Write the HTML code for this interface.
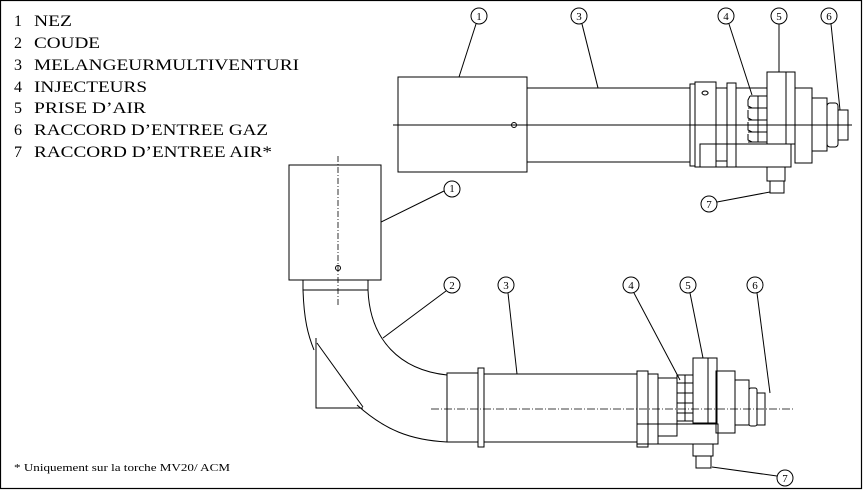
<!DOCTYPE html>
<html><head><meta charset="utf-8"><style>
html,body{margin:0;padding:0;background:#fff;}
svg{display:block;}
text{font-family:"Liberation Serif",serif;fill:#000;}
.l{font-size:16px;}
</style></head><body>
<svg width="863" height="491" viewBox="0 0 863 491" xmlns="http://www.w3.org/2000/svg" fill="none" stroke="#000" stroke-width="1">
<rect x="0.5" y="0.5" width="861" height="488" stroke-width="1.2"/>
<g stroke="none">
<text class="l" x="14" y="26">1</text><text class="l" x="34" y="26" textLength="38" lengthAdjust="spacingAndGlyphs">NEZ</text>
<text class="l" x="14" y="48">2</text><text class="l" x="34" y="48" textLength="66" lengthAdjust="spacingAndGlyphs">COUDE</text>
<text class="l" x="14" y="70">3</text><text class="l" x="34" y="70" textLength="265" lengthAdjust="spacingAndGlyphs">MELANGEURMULTIVENTURI</text>
<text class="l" x="14" y="92">4</text><text class="l" x="34" y="92" textLength="113" lengthAdjust="spacingAndGlyphs">INJECTEURS</text>
<text class="l" x="14" y="113">5</text><text class="l" x="34" y="113" textLength="112" lengthAdjust="spacingAndGlyphs">PRISE D’AIR</text>
<text class="l" x="14" y="135">6</text><text class="l" x="34" y="135" textLength="234" lengthAdjust="spacingAndGlyphs">RACCORD D’ENTREE GAZ</text>
<text class="l" x="14" y="157">7</text><text class="l" x="34" y="157" textLength="238" lengthAdjust="spacingAndGlyphs">RACCORD D’ENTREE AIR*</text>
<text x="14" y="471" font-size="11" textLength="216" lengthAdjust="spacingAndGlyphs">* Uniquement sur la torche MV20/ ACM</text>
</g>
<!-- TOP ASSEMBLY -->
<line x1="393" y1="125" x2="852" y2="125"/>
<rect x="398" y="77" width="129" height="95"/>
<circle cx="514" cy="125" r="2.5"/>
<rect x="527" y="88" width="163" height="74"/>
<rect x="690" y="84" width="5" height="82"/>
<rect x="695" y="82" width="21" height="85"/>
<rect x="716" y="88" width="11" height="73"/>
<rect x="727" y="83" width="9" height="84"/>
<rect x="736" y="88" width="31" height="56"/>
<path d="M750 96 h17 M748 108 h19 M748 120 h19 M748 132 h19 M748 142 h19"/>
<path d="M750 96 l-2 4 v6 l4 2 M748 110 v8 l4 2 M748 122 v8 l4 2 M748 134 v6 l4 2"/>
<line x1="758" y1="96" x2="758" y2="142"/>
<rect x="767" y="72" width="28" height="72"/>
<line x1="786" y1="72" x2="786" y2="144"/>
<rect x="700" y="144" width="91" height="23"/>
<rect x="795" y="88" width="17" height="75"/>
<rect x="812" y="98" width="15" height="53"/>
<rect x="827" y="103" width="11" height="44" rx="3"/>
<rect x="838" y="110" width="10" height="30"/>
<rect x="767" y="167" width="18" height="14"/>
<rect x="770" y="181" width="14" height="12"/>
<path d="M705 95 a3 2 0 1 1 0.1 0"/>
<g>
<circle cx="479" cy="16" r="8"/><line x1="476" y1="24" x2="459" y2="77"/>
<circle cx="579" cy="16" r="8"/><line x1="582" y1="24" x2="598" y2="88"/>
<circle cx="726" cy="16" r="8"/><line x1="729" y1="24" x2="752" y2="95"/>
<circle cx="779" cy="16" r="8"/><line x1="779" y1="24" x2="779" y2="72"/>
<circle cx="829" cy="16" r="8"/><line x1="831" y1="24" x2="840" y2="110"/>
<circle cx="709" cy="204" r="8"/><line x1="717" y1="202" x2="770" y2="192"/>
</g>
<g stroke="none" font-size="11" text-anchor="middle">
<text x="479" y="20">1</text><text x="579" y="20">3</text><text x="726" y="20">4</text>
<text x="779" y="20">5</text><text x="829" y="20">6</text><text x="709" y="208">7</text>
<text x="452" y="192">1</text><text x="452" y="289">2</text><text x="506" y="289">3</text>
<text x="631" y="289">4</text><text x="688" y="289">5</text><text x="755" y="289">6</text><text x="785" y="482">7</text>
</g>
<!-- BOTTOM ASSEMBLY -->
<rect x="289" y="165" width="92" height="115"/>
<line x1="338" y1="156" x2="338" y2="305" stroke-dasharray="6,2,1,2" stroke-width="0.8"/>
<circle cx="338" cy="268" r="2.5"/>
<circle cx="452" cy="189" r="8"/><line x1="444" y1="191" x2="381" y2="222"/>
<rect x="303" y="280" width="65" height="10"/>
<path d="M368 290 C370 340 400 370 447 375"/>
<path d="M303 290 C304 320 308 335 314 350"/>
<path d="M316 338 V408 H363"/>
<path d="M317 343 L363 407"/>
<path d="M357 405 C385 430 410 440 447 442"/>
<rect x="447" y="373" width="31" height="69"/>
<rect x="478" y="368" width="6" height="79"/>
<rect x="484" y="374" width="153" height="68"/>
<line x1="431" y1="409" x2="795" y2="409" stroke-dasharray="8,2,1,2" stroke-width="0.8"/>
<rect x="637" y="371" width="11" height="76"/>
<rect x="648" y="374" width="10" height="70"/>
<rect x="658" y="378" width="19" height="58"/>
<rect x="677" y="375" width="16" height="46"/>
<path d="M677 383 h16 M677 393 h16 M677 403 h16 M677 413 h16 M685 375 v46"/>
<rect x="693" y="358" width="24" height="65"/>
<line x1="708" y1="358" x2="708" y2="423"/>
<rect x="637" y="424" width="81" height="20"/>
<rect x="716" y="371" width="19" height="62"/>
<rect x="735" y="380" width="14" height="45"/>
<rect x="749" y="388" width="8" height="38" rx="2"/>
<rect x="757" y="393" width="8" height="32"/>
<rect x="693" y="444" width="20" height="12"/>
<rect x="696" y="456" width="15" height="12"/>
<g>
<circle cx="452" cy="285" r="8"/><line x1="446" y1="291" x2="383" y2="338"/>
<circle cx="506" cy="285" r="8"/><line x1="508" y1="293" x2="517" y2="374"/>
<circle cx="631" cy="285" r="8"/><line x1="634" y1="293" x2="680" y2="380"/>
<circle cx="688" cy="285" r="8"/><line x1="690" y1="293" x2="703" y2="358"/>
<circle cx="755" cy="285" r="8"/><line x1="757" y1="293" x2="770" y2="393"/>
<circle cx="785" cy="478" r="8"/><line x1="777" y1="476" x2="712" y2="467"/>
</g>
</svg>
</body></html>
